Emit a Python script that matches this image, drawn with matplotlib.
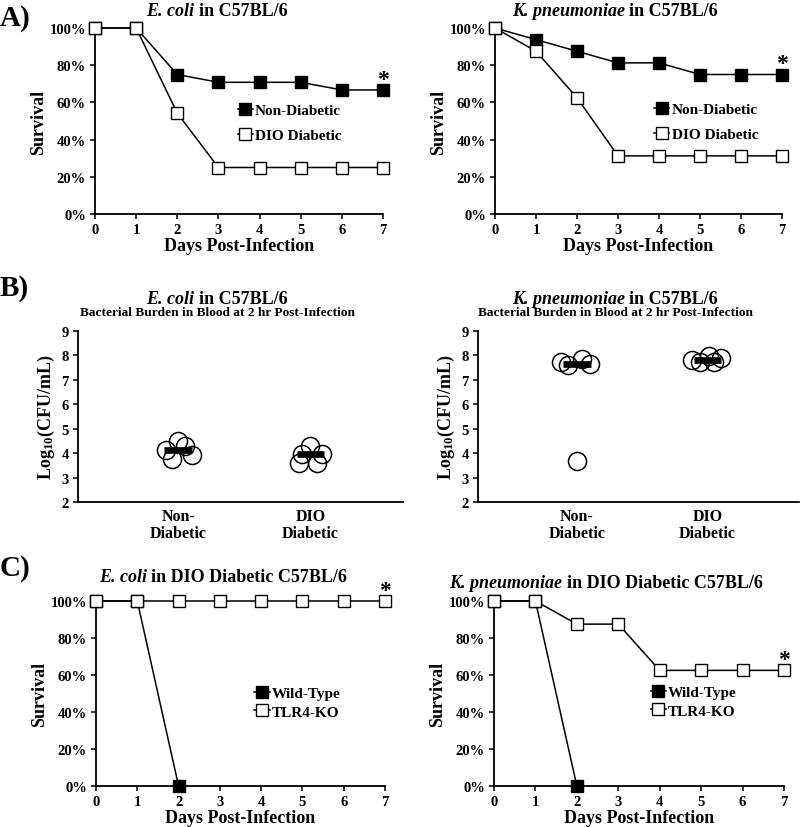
import numpy as np
import matplotlib
matplotlib.use("Agg")
import matplotlib.pyplot as plt

plt.rcParams['font.family'] = ['Liberation Serif', 'DejaVu Serif']
plt.rcParams['font.weight'] = 'bold'
plt.rcParams['mathtext.fontset'] = 'custom'
plt.rcParams['mathtext.rm'] = 'Liberation Serif:bold'
plt.rcParams['mathtext.bf'] = 'Liberation Serif:bold'
plt.rcParams['mathtext.default'] = 'rm'

# ---------------- data ----------------
days = [0, 1, 2, 3, 4, 5, 6, 7]
pct_ticks = [0, 20, 40, 60, 80, 100]

ecoli_nondiab = [100, 100, 75, 70.8, 70.8, 70.8, 66.7, 66.7]
ecoli_dio = [100, 100, 54.2, 25, 25, 25, 25, 25]
kp_nondiab = [100, 93.75, 87.5, 81.25, 81.25, 75, 75, 75]
kp_dio = [100, 87.5, 62.5, 31.25, 31.25, 31.25, 31.25, 31.25]

wt_days = [0, 1, 2]
ecoli_wt = [100, 100, 0]
ecoli_ko = [100, 100, 100, 100, 100, 100, 100, 100]
kp_wt = [100, 100, 0]
kp_ko = [100, 100, 87.5, 87.5, 62.5, 62.5, 62.5, 62.5]

groups = ["Non-\nDiabetic", "DIO\nDiabetic"]
log_ticks = [2, 3, 4, 5, 6, 7, 8, 9]
ecoli_cfu_nondiab = [4.14, 4.51, 3.76, 4.30, 3.92]
ecoli_cfu_dio = [3.58, 3.98, 4.28, 3.98, 3.60]
kp_cfu_nondiab = [7.74, 7.61, 7.85, 7.65, 3.69]
kp_cfu_dio = [7.82, 7.72, 7.98, 7.74, 7.90]
# horizontal jitter of the dots within a group
ecoli_jit_nondiab = [-0.093, 0.002, -0.043, 0.053, 0.104]
ecoli_jit_dio = [-0.089, -0.063, 0.0, 0.089, 0.051]
kp_jit_nondiab = [-0.124, -0.066, 0.036, 0.099, 0.0]
kp_jit_dio = [-0.117, -0.061, 0.010, 0.053, 0.105]

W, H = 800, 828
fig = plt.figure(figsize=(W / 100, H / 100), dpi=100)


def ax_px(x0, x1, y0, y1):
    return fig.add_axes([x0 / W, 1 - y1 / H, (x1 - x0) / W, (y1 - y0) / H])


def style(ax):
    for s in ['top', 'right']:
        ax.spines[s].set_visible(False)
    for s in ['left', 'bottom']:
        ax.spines[s].set_linewidth(1.3)
    ax.tick_params(direction='out', length=3.5, width=1.1, labelsize=10.5, pad=3)
    for lab in ax.get_xticklabels() + ax.get_yticklabels():
        lab.set_fontweight('bold')


def survival(ax, x1, y1, lab1, x2, y2, lab2, legpos, labsp):
    ax.plot(x1, y1, color='black', lw=1.1, marker='s', ms=8.2, mfc='black',
            mec='black', mew=1.0, clip_on=False, label=lab1, zorder=3)
    ax.plot(x2, y2, color='black', lw=1.1, marker='s', ms=8.2, mfc='white',
            mec='black', mew=1.0, clip_on=False, label=lab2, zorder=4)
    ax.set_xlim(0, 7)
    ax.set_ylim(0, 100)
    ax.set_xticks(days)
    ax.set_yticks(pct_ticks)
    ax.set_yticklabels([f"{v}%" for v in pct_ticks])
    ax.set_xlabel("Days Post-Infection", fontsize=13, fontweight='bold', labelpad=1)
    ax.set_ylabel("Survival", fontsize=13, fontweight='bold', labelpad=1.5)
    style(ax)
    ax.legend(loc='center left', bbox_to_anchor=legpos, frameon=False,
              handlelength=1.0, handletextpad=0.15, borderpad=0,
              borderaxespad=0, labelspacing=labsp,
              prop={'weight': 'bold', 'size': 11})
    ax.annotate("*", xy=(7, max(y1[-1], y2[-1])),
                xytext=(0, 0), textcoords='offset points', ha='center',
                va='bottom', fontsize=17, fontweight='bold', annotation_clip=False)


def burden(ax, vals1, jit1, vals2, jit2):
    for i, (vals, jit) in enumerate([(vals1, jit1), (vals2, jit2)]):
        pos = i + 1
        ax.plot(np.array(jit) + pos, vals, ls='none', marker='o', ms=13,
                mfc='none', mec='black', mew=1.1, zorder=3)
        med = float(np.median(vals))
        ax.hlines(med, pos - 0.105, pos + 0.105, color='black', lw=4.8, zorder=4)
    ax.set_xlim(0.243, 2.70)
    ax.set_ylim(2, 9)
    ax.set_yticks(log_ticks)
    ax.set_xticks([1, 2])
    ax.set_xticklabels(groups, fontsize=11, fontweight='bold', linespacing=1.05)
    ax.set_ylabel(r"Log$_{10}$(CFU/mL)", fontsize=13, fontweight='bold', labelpad=3)
    style(ax)
    ax.tick_params(axis='x', length=0, labelsize=11.5, pad=4.5)
    for lab in ax.get_xticklabels():
        lab.set_fontweight('bold')


def mixed_title(xc, yc, ital, rest, size):
    renderer = fig.canvas.get_renderer()
    t1 = fig.text(0, 0, ital, fontsize=size, fontweight='bold', fontstyle='italic',
                  va='center', ha='left')
    t2 = fig.text(0, 0, rest, fontsize=size, fontweight='bold', va='center', ha='left')
    w1 = t1.get_window_extent(renderer).width
    w2 = t2.get_window_extent(renderer).width
    gap = 0.25 * size * 100 / 72
    total = w1 + gap + w2
    x0 = xc - total / 2
    t1.set_position((x0 / W, 1 - yc / H))
    t2.set_position(((x0 + w1 + gap) / W, 1 - yc / H))


# ---------------- panel A ----------------
axA1 = ax_px(95, 383, 29, 215)
survival(axA1, days, ecoli_nondiab, "Non-Diabetic", days, ecoli_dio, "DIO Diabetic",
         (0.495, 0.49), 0.75)
axA2 = ax_px(495, 782, 29, 215)
survival(axA2, days, kp_nondiab, "Non-Diabetic", days, kp_dio, "DIO Diabetic",
         (0.554, 0.495), 0.75)

# ---------------- panel B ----------------
axB1 = ax_px(78, 403, 332, 503)
burden(axB1, ecoli_cfu_nondiab, ecoli_jit_nondiab, ecoli_cfu_dio, ecoli_jit_dio)
axB2 = ax_px(478, 799, 332, 503)
burden(axB2, kp_cfu_nondiab, kp_jit_nondiab, kp_cfu_dio, kp_jit_dio)

# ---------------- panel C ----------------
axC1 = ax_px(96, 385, 602, 787)
survival(axC1, wt_days, ecoli_wt, "Wild-Type", days, ecoli_ko, "TLR4-KO",
         (0.548, 0.451), 0.32)
axC2 = ax_px(494, 784, 602, 787)
survival(axC2, wt_days, kp_wt, "Wild-Type", days, kp_ko, "TLR4-KO",
         (0.54, 0.457), 0.32)

fig.canvas.draw()

mixed_title(217, 11, "E. coli", "in C57BL/6", 13)
mixed_title(615, 11, "K. pneumoniae", "in C57BL/6", 13)
mixed_title(217, 300, "E. coli", "in C57BL/6", 13)
mixed_title(615, 300, "K. pneumoniae", "in C57BL/6", 13)
mixed_title(223, 578, "E. coli", "in DIO Diabetic C57BL/6", 13)
mixed_title(606, 584, "K. pneumoniae", "in DIO Diabetic C57BL/6", 13)

sub = "Bacterial Burden in Blood at 2 hr Post-Infection"
fig.text(217 / W, 1 - 313 / H, sub, fontsize=9.6, fontweight='bold', ha='center', va='center')
fig.text(616 / W, 1 - 313 / H, sub, fontsize=9.6, fontweight='bold', ha='center', va='center')

for lab, y in [("A)", 19), ("B)", 289), ("C)", 568)]:
    fig.text(0 / W, 1 - y / H, lab, fontsize=21, fontweight='bold', ha='left', va='center')

fig.savefig("out.png", dpi=100)
